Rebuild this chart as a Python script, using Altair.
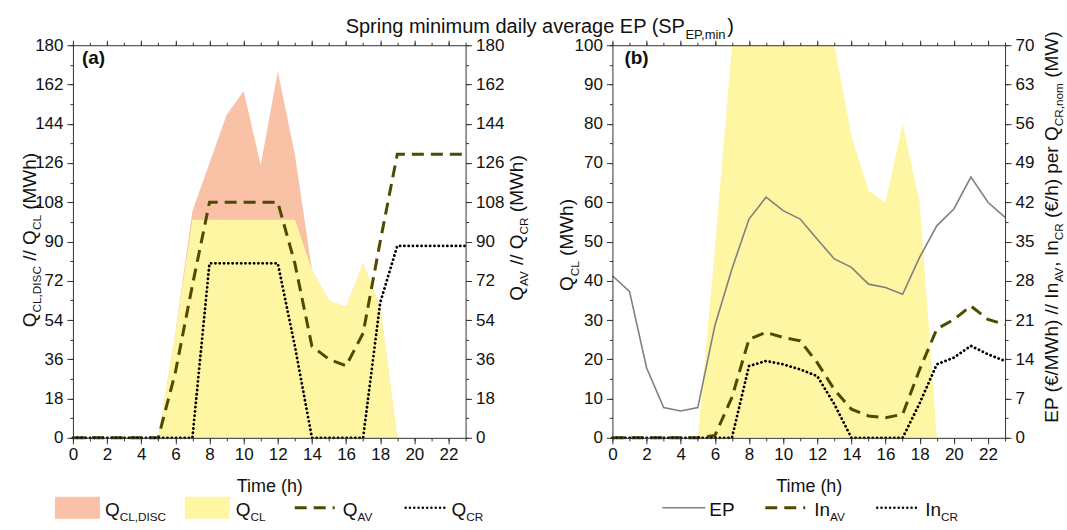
import altair as alt
import pandas as pd

# ---------------- data ----------------
hours = list(range(24))
x_ticks = list(range(0, 23, 2))

# panel (a), MWh
q_cl_disc = [0, 0, 0, 0, 0, 0, 48, 104, 126, 148, 159, 125, 168, 130, 77, 63, 60, 80, 60, 0, 0, 0, 0, 0]
q_cl = [0, 0, 0, 0, 0, 0, 48, 100, 100, 100, 100, 100, 100, 100, 77, 63, 60, 80, 60, 0, 0, 0, 0, 0]
q_av = [0, 0, 0, 0, 0, 0, 30, 70, 108, 108, 108, 108, 108, 80, 42, 36, 33, 48, 90, 130, 130, 130, 130, 130]
q_cr = [0, 0, 0, 0, 0, 0, 0, 0, 80, 80, 80, 80, 80, 42, 0, 0, 0, 0, 62, 88, 88, 88, 88, 88]

# panel (b): EP in EUR/MWh, In_AV / In_CR in EUR/h per MW
ep = [28.9, 26.1, 12.5, 5.4, 4.8, 5.4, 20.0, 30.1, 39.0, 42.9, 40.5, 39.0,
      35.4, 31.9, 30.4, 27.4, 26.8, 25.6, 32.2, 37.8, 40.8, 46.5, 42.0, 39.3]
in_av = [0, 0, 0, 0, 0, 0, 0.4, 7.2, 17.6, 18.8, 17.9, 17.3,
         13.4, 8.6, 5.1, 3.9, 3.6, 4.2, 12.2, 19.4, 21.1, 23.5, 21.1, 20.2]
in_cr = [0, 0, 0, 0, 0, 0, 0, 0, 12.8, 13.7, 13.1, 12.2,
         11.0, 6.0, 0, 0, 0, 0, 6.2, 13.1, 14.3, 16.4, 14.9, 13.7]

yticks_a = list(range(0, 181, 18))
yminor_a = list(range(0, 181, 9))
yticks_bl = list(range(0, 101, 10))
yminor_bl = list(range(0, 101, 5))
yticks_br = list(range(0, 71, 7))
yminor_br = [i * 3.5 for i in range(21)]

# ---------------- style ----------------
FONT = "Liberation Sans"
ORANGE = "#F9C2A6"
YELLOW = "#FFF6A3"
OLIVE = "#4E4A00"
GRAY = "#808080"
W = 393
H = 393

CW = {' ': 278, '(': 333, ')': 333, '/': 278, ',': 278, '.': 278, '\u20ac': 556,
      'A': 667, 'C': 722, 'D': 722, 'E': 667, 'I': 278, 'L': 556, 'M': 833, 'P': 667,
      'Q': 778, 'R': 722, 'S': 667, 'T': 611, 'V': 667, 'W': 944,
      'a': 556, 'd': 556, 'e': 556, 'g': 556, 'h': 556, 'i': 222, 'l': 222, 'm': 833,
      'n': 556, 'o': 556, 'p': 556, 'r': 333, 'u': 556, 'v': 500, 'y': 500}


def tw(s, size):
    return sum(CW.get(c, 556) for c in s) * size / 1000.0


one = pd.DataFrame({"k": [0]})


def rich(segs, x, y, size, angle=0, anchor="middle", sub_ratio=0.62, shift=None, color="#111"):
    sub_size = size * sub_ratio
    if shift is None:
        shift = size * 0.28
    widths = [tw(t, sub_size if s else size) for t, s in segs]
    total = sum(widths)
    off = -total / 2 if anchor == "middle" else 0
    layers = []
    for (t, s), w in zip(segs, widths):
        fs = sub_size if s else size
        stripped = t.lstrip(" ")
        lead = tw(t[: len(t) - len(stripped)], fs)
        props = dict(text=stripped.rstrip(" "), align="left", baseline="alphabetic", font=FONT,
                     fontSize=fs, dx=off + lead, color=color)
        if s:
            props["dy"] = shift
        if angle:
            props["angle"] = angle
        layers.append(alt.Chart(one).mark_text(**props).encode(x=alt.value(x), y=alt.value(y)))
        off += w
    return layers


def xax(orient, major, labels=False, title=""):
    return alt.Axis(orient=orient, values=x_ticks if major else hours, labels=labels,
                    tickSize=(6 if orient == "bottom" else 5) if major else 3,
                    domain=major, grid=False, title=title, zindex=1,
                    labelPadding=3, titlePadding=15, labelFlush=False)


def yax(orient, values, major, labels=False):
    return alt.Axis(orient=orient, values=values, labels=labels,
                    tickSize=6 if major else 3, domain=major, grid=False, title="",
                    zindex=1, labelPadding=4, labelFlush=False)


def X(ax):
    return alt.X("h:Q", scale=alt.Scale(domain=[0, 23], nice=False), axis=ax)


def sc(lo, hi):
    return alt.Scale(domain=[lo, hi], nice=False, zero=False)


def ext(x1, x2, y1, y2):
    return alt.Chart(one).mark_rect(opacity=0).encode(
        x=alt.value(x1), x2=alt.value(x2), y=alt.value(y1), y2=alt.value(y2))


def swatch_rect(x1, x2, y1, y2, color):
    return alt.Chart(one).mark_rect(color=color).encode(
        x=alt.value(x1), x2=alt.value(x2), y=alt.value(y1), y2=alt.value(y2))


def swatch_line(x1, x2, y, color, width, dash=None, cap="butt"):
    props = dict(color=color, strokeWidth=width, strokeCap=cap)
    if dash:
        props["strokeDash"] = dash
    return alt.Chart(one).mark_rule(**props).encode(
        x=alt.value(x1), x2=alt.value(x2), y=alt.value(y))


DASH = [12, 7]
DOT = [0.1, 4.2]

# ---------------- panel (a) ----------------
dfa = pd.DataFrame(dict(h=hours, disc=q_cl_disc, cl=q_cl, av=q_av, cr=q_cr))

a_orange = alt.Chart(dfa).mark_area(color=ORANGE, opacity=1).encode(
    X(xax("bottom", True, labels=True, title="Time (h)")),
    alt.Y("disc:Q", scale=sc(0, 180), axis=yax("left", yticks_a, True, labels=True)))
a_yellow = alt.Chart(dfa).mark_area(color=YELLOW, opacity=1).encode(
    X(xax("bottom", False)),
    alt.Y("cl:Q", scale=sc(0, 180), axis=yax("left", yminor_a, False)))
a_av = alt.Chart(dfa).mark_line(color=OLIVE, strokeWidth=3, strokeDash=DASH).encode(
    X(xax("top", True)),
    alt.Y("av:Q", scale=sc(0, 180), axis=yax("right", yticks_a, True, labels=True)))
a_cr = alt.Chart(dfa).mark_line(color="#000", strokeWidth=2.8, strokeDash=DOT, strokeCap="round").encode(
    X(xax("top", False)),
    alt.Y("cr:Q", scale=sc(0, 180), axis=yax("right", yminor_a, False)))

a_text = []
a_text += rich([("Spring minimum daily average EP (SP", False), ("EP,min", True), (")", False)],
               273, -12, 20, anchor="start", sub_ratio=0.65)
a_text += rich([("Q", False), ("CL,DISC", True), (" // Q", False), ("CL", True), (" (MWh)", False)],
               -37, 195, 19, angle=270)
a_text += rich([("Q", False), ("AV", True), (" // Q", False), ("CR", True), (" (MWh)", False)],
               450, 183, 19, angle=270)
a_text.append(alt.Chart(one).mark_text(text="(a)", align="left", baseline="alphabetic", font=FONT,
                                       fontSize=19, fontWeight="bold", color="#111").encode(
    x=alt.value(9), y=alt.value(19)))
# legend (a)
a_text.append(swatch_rect(-18, 27, 452, 474, ORANGE))
a_text += rich([("Q", False), ("CL,DISC", True)], 32, 471, 19, anchor="start")
a_text.append(swatch_rect(112, 157, 452, 474, YELLOW))
a_text += rich([("Q", False), ("CL", True)], 163, 471, 19, anchor="start")
a_text.append(swatch_line(222, 262, 463, OLIVE, 3, DASH))
a_text += rich([("Q", False), ("AV", True)], 270, 471, 19, anchor="start")
a_text.append(swatch_line(333, 373, 463, "#000", 2.4, DOT, "round"))
a_text += rich([("Q", False), ("CR", True)], 379, 471, 19, anchor="start")

panel_a = alt.layer(ext(-73, 0, -45, 485), a_orange, a_yellow, a_av, a_cr, *a_text).resolve_scale(
    y="independent").resolve_axis(x="independent", y="independent").properties(width=W, height=H)

# ---------------- panel (b) ----------------
dfb = pd.DataFrame(dict(h=hours, cl=q_cl, ep=ep, av=in_av, cr=in_cr))

b_yellow = alt.Chart(dfb).mark_area(color=YELLOW, opacity=1, clip=True).encode(
    X(xax("bottom", True, labels=True, title="Time (h)")),
    alt.Y("cl:Q", scale=sc(0, 100), axis=yax("left", yticks_bl, True, labels=True)))
b_minor = alt.Chart(dfb).mark_point(opacity=0).encode(
    X(xax("bottom", False)),
    alt.Y("cl:Q", scale=sc(0, 100), axis=yax("left", yminor_bl, False)))
b_ep = alt.Chart(dfb).mark_line(color=GRAY, strokeWidth=1.6).encode(
    X(xax("top", True)),
    alt.Y("ep:Q", scale=sc(0, 70), axis=yax("right", yticks_br, True, labels=True)))
b_av = alt.Chart(dfb).mark_line(color=OLIVE, strokeWidth=3, strokeDash=DASH).encode(
    X(xax("top", False)),
    alt.Y("av:Q", scale=sc(0, 70), axis=yax("right", yminor_br, False)))
b_cr = alt.Chart(dfb).mark_line(color="#000", strokeWidth=2.8, strokeDash=DOT, strokeCap="round").encode(
    X(None),
    alt.Y("cr:Q", scale=sc(0, 70), axis=None))

b_text = []
b_text += rich([("Q", False), ("CL", True), (" (MWh)", False)], -39, 200, 19, angle=270)
b_text += rich([("EP (\u20ac/MWh) // In", False), ("AV", True), (", In", False), ("CR", True),
                (" (\u20ac/h) per Q", False), ("CR,nom", True), (" (MW)", False)],
               446, 182, 19, angle=270)
b_text.append(alt.Chart(one).mark_text(text="(b)", align="left", baseline="alphabetic", font=FONT,
                                       fontSize=19, fontWeight="bold", color="#111").encode(
    x=alt.value(12), y=alt.value(19)))
# legend (b)
b_text.append(swatch_line(50, 93, 463, GRAY, 1.6))
b_text += rich([("EP", False)], 97, 471, 19, anchor="start")
b_text.append(swatch_line(153, 193, 463, OLIVE, 3, DASH))
b_text += rich([("In", False), ("AV", True)], 202, 471, 19, anchor="start")
b_text.append(swatch_line(265, 305, 463, "#000", 2.4, DOT, "round"))
b_text += rich([("In", False), ("CR", True)], 313, 471, 19, anchor="start")

panel_b = alt.layer(ext(393, 454, -45, 485), b_yellow, b_minor, b_ep, b_av, b_cr, *b_text).resolve_scale(
    y="independent").resolve_axis(x="independent", y="independent").properties(width=W, height=H)

chart = alt.hconcat(panel_a, panel_b, spacing=147, bounds="flush").properties(
    padding=0
).configure_view(strokeWidth=0).configure_axis(
    labelFont=FONT, labelFontSize=17, labelColor="#111",
    titleFont=FONT, titleFontSize=18, titleFontWeight="normal", titleColor="#111",
    domainColor="#333", tickColor="#333", domainWidth=1, tickWidth=1,
)

chart.save("out.html", embed_options={"renderer": "svg", "actions": False})
